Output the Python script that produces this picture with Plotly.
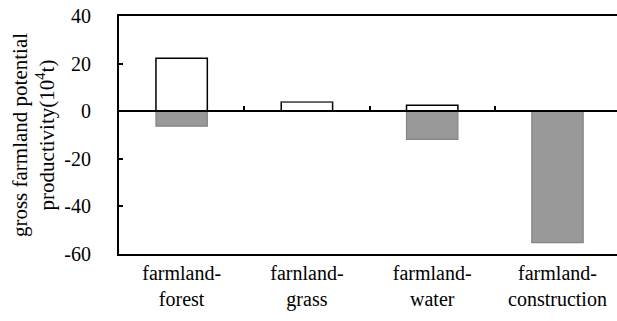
import plotly.graph_objects as go

categories = ["farmland-<br>forest", "farnland-<br>grass", "farmland-<br>water", "farmland-<br>construction"]
positive = [22.3, 3.9, 2.5, 0]
negative = [-6.3, 0, -11.8, -55.2]
y_ticks = [-60, -40, -20, 0, 20, 40]
y_tick_labels = ["-60", "-40", "-20", "0", "20", "40"]
boundaries = [0.5, 1.5, 2.5, 3.5]

FONT = "Liberation Serif"
x_idx = list(range(len(categories)))

fig = go.Figure()
fig.add_trace(go.Bar(x=x_idx, y=positive, width=0.41,
                     marker=dict(color="white", line=dict(color="black", width=1.5)),
                     showlegend=False))
fig.add_trace(go.Bar(x=x_idx, y=negative, width=0.41,
                     marker=dict(color="#999999", line=dict(color="#858585", width=1.2)),
                     showlegend=False))
# invisible trace to carry the category axis drawn at y = 0
fig.add_trace(go.Scatter(x=[0], y=[0], xaxis="x2", mode="markers",
                         marker=dict(opacity=0), showlegend=False, hoverinfo="skip"))

xr = [-0.5, 3.475]
fig.update_layout(
    width=617, height=321,
    margin=dict(l=119, r=0, t=16, b=67),
    plot_bgcolor="white", paper_bgcolor="white",
    barmode="relative",
    font=dict(family=FONT, size=20, color="black"),
    xaxis=dict(range=xr, tickmode="array", tickvals=x_idx, ticktext=categories,
               showline=True, linecolor="black", linewidth=2, mirror=True,
               ticks="", showgrid=False, zeroline=False, automargin=False,
               tickfont=dict(family=FONT, size=20)),
    xaxis2=dict(range=xr, overlaying="x", anchor="free", position=0.6, side="top",
                showline=True, linecolor="black", linewidth=1.5, automargin=False,
                tickmode="array", tickvals=boundaries, ticks="outside", ticklen=4,
                tickwidth=1.5, tickcolor="black", showticklabels=False,
                showgrid=False, zeroline=False),
    yaxis=dict(range=[-60, 40], tickmode="array", tickvals=y_ticks, ticktext=y_tick_labels,
               showline=True, linecolor="black", linewidth=2, mirror=False,
               ticks="inside", ticklen=4, tickwidth=1.5, tickcolor="black",
               ticklabelstandoff=22, automargin=False,
               showgrid=False, zeroline=False,
               tickfont=dict(family=FONT, size=20),
               title=dict(text="gross farmland potential<br>productivity(10<sup>4</sup>t)",
                          font=dict(family=FONT, size=21), standoff=4)),
)

fig.write_html("out.html", config={"displayModeBar": False},
               post_script="document.body.style.margin='0';")
